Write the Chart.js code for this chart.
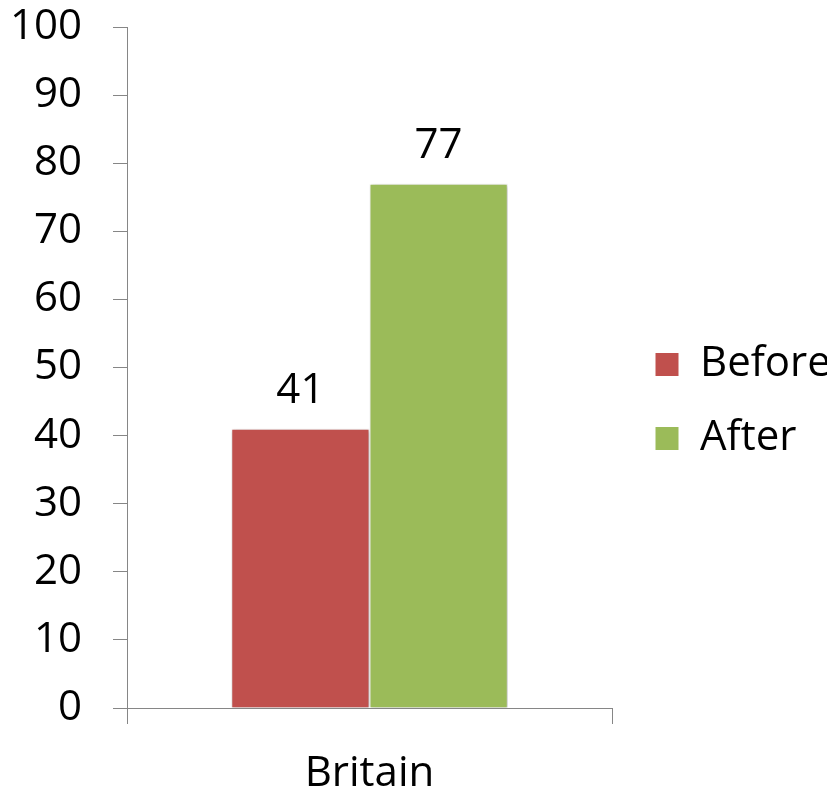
<!DOCTYPE html>
<html lang="en">
<head>
    <meta charset="UTF-8">
    <title>Britain Before / After</title>
    <script src="https://cdn.jsdelivr.net/npm/chart.js"></script>
    <style>
        body { margin: 0; background: #fff; }
    </style>
</head>
<body>
    <canvas id="chart" width="833" height="788"></canvas>

    <script>
        const categories = ['Britain'];
        const seriesNames = ['Before', 'After'];
        const beforeValues = [41];
        const afterValues = [77];
        const yTicks = [0, 10, 20, 30, 40, 50, 60, 70, 80, 90, 100];

        const FONT = "'Open Sans', 'Liberation Sans', sans-serif";
        const axisGray = '#868686';

        // numbers above each bar
        const valueLabels = {
            id: 'valueLabels',
            afterDatasetsDraw(chart) {
                const ctx = chart.ctx;
                ctx.save();
                ctx.font = `42px ${FONT}`;
                ctx.fillStyle = '#000';
                ctx.textAlign = 'center';
                ctx.textBaseline = 'bottom';
                chart.data.datasets.forEach((ds, i) => {
                    chart.getDatasetMeta(i).data.forEach((bar, j) => {
                        ctx.fillText(ds.data[j], bar.x, bar.y - 17);
                    });
                });
                ctx.restore();
            }
        };

        // soft shadow round the bars
        const barShadow = {
            id: 'barShadow',
            beforeDatasetsDraw(chart) {
                const ctx = chart.ctx;
                ctx.save();
                ctx.shadowColor = 'rgba(0,0,0,0.3)';
                ctx.shadowBlur = 4;
                ctx.shadowOffsetX = 1;
                ctx.shadowOffsetY = 1;
            },
            afterDatasetsDraw(chart) {
                chart.ctx.restore();
            }
        };

        // leave a gap between the plot and the legend, lift it a little
        const legendNudge = {
            id: 'legendNudge',
            afterLayout(chart) {
                const lg = chart.legend;
                lg.left += 11;
                lg.right += 11;
                lg.top -= 6;
                lg.bottom -= 6;
            }
        };

        new Chart(document.getElementById('chart').getContext('2d'), {
            type: 'bar',
            data: {
                labels: categories,
                datasets: [
                    {
                        label: seriesNames[0],
                        data: beforeValues,
                        backgroundColor: '#C0504D',
                        borderColor: '#ffffff',
                        borderWidth: 1
                    },
                    {
                        label: seriesNames[1],
                        data: afterValues,
                        backgroundColor: '#9BBB59',
                        borderColor: '#ffffff',
                        borderWidth: 1
                    }
                ]
            },
            options: {
                responsive: false,
                animation: false,
                devicePixelRatio: 1,
                categoryPercentage: 0.57,
                barPercentage: 1,
                layout: { padding: { top: 27, left: 0, right: 17, bottom: 0 } },
                plugins: {
                    legend: {
                        position: 'right',
                        align: 'center',
                        labels: {
                            boxWidth: 24,
                            boxHeight: 24,
                            padding: 32,
                            color: '#000',
                            font: { family: FONT, size: 42 }
                        }
                    },
                    tooltip: { enabled: false }
                },
                scales: {
                    x: {
                        offset: true,
                        afterFit(axis) {
                            axis.height = 80;
                            axis.paddingLeft = 0;
                            axis.paddingRight = 0;
                        },
                        grid: {
                            offset: true,
                            drawOnChartArea: false,
                            drawTicks: true,
                            tickLength: 16,
                            color: axisGray
                        },
                        border: { color: axisGray, width: 1 },
                        ticks: {
                            color: '#000',
                            padding: 25,
                            font: { family: FONT, size: 42 }
                        }
                    },
                    y: {
                        min: 0,
                        max: 100,
                        afterBuildTicks(axis) {
                            axis.ticks = yTicks.map(v => ({ value: v }));
                        },
                        afterFit(axis) {
                            axis.width = 127;
                            axis.paddingTop = 0;
                            axis.paddingBottom = 0;
                        },
                        grid: {
                            drawOnChartArea: false,
                            drawTicks: true,
                            tickLength: 14,
                            color: axisGray
                        },
                        border: { color: axisGray, width: 1 },
                        ticks: {
                            color: '#000',
                            padding: 31,
                            font: { family: FONT, size: 42 }
                        }
                    }
                }
            },
            plugins: [barShadow, valueLabels, legendNudge]
        });
    </script>
</body>
</html>
